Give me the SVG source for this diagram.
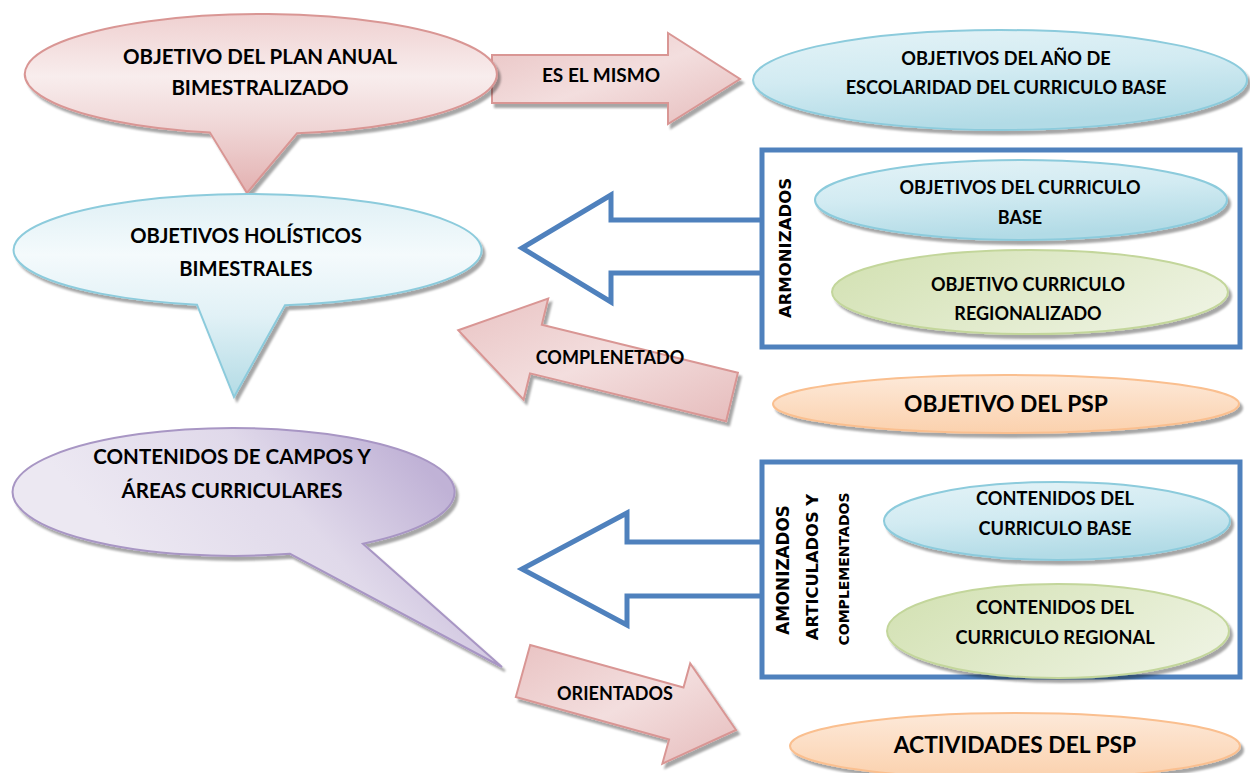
<svg xmlns="http://www.w3.org/2000/svg" width="1250" height="773" viewBox="0 0 1250 773">
<style>
.t{font-family:Lato,"Liberation Sans",sans-serif;font-weight:bold;fill:#000;text-anchor:middle}
.v{font-family:"DejaVu Sans","Liberation Sans",sans-serif;font-weight:bold;fill:#000;text-anchor:middle;dominant-baseline:central}
.pinkA{fill:url(#gPinkA);stroke:#d99694;stroke-width:2;filter:url(#sh)}
.hollow{fill:none;stroke:#4f81bd;stroke-width:5;stroke-linejoin:miter}
.box{fill:#fff;stroke:#4f81bd;stroke-width:5}
.blueE{fill:url(#gBlue);stroke:#8ccbdc;stroke-width:2;filter:url(#sh)}
.greenE{fill:url(#gGreen);stroke:#c3d69b;stroke-width:2;filter:url(#sh)}
.orangeE{fill:url(#gOrange);stroke:#fabf8f;stroke-width:2;filter:url(#sh)}
</style>
<defs>
<filter id="sh" x="-10%" y="-10%" width="125%" height="135%">
<feDropShadow dx="3" dy="4" stdDeviation="1.2" flood-color="#000" flood-opacity="0.35"/>
</filter>
<linearGradient id="gPink" x1="0" y1="0" x2="0" y2="1">
<stop offset="0" stop-color="#efd0d0"/><stop offset="0.35" stop-color="#f8eded"/><stop offset="0.62" stop-color="#f0d7d7"/><stop offset="1" stop-color="#e3b1b1"/>
</linearGradient>
<linearGradient id="gPinkA" x1="0" y1="0" x2="1" y2="1">
<stop offset="0" stop-color="#e9c3c3"/><stop offset="0.5" stop-color="#f3dede"/><stop offset="1" stop-color="#e6bcbc"/>
</linearGradient>
<linearGradient id="gBlueC" x1="0" y1="0" x2="0" y2="1">
<stop offset="0" stop-color="#dff0f5"/><stop offset="0.3" stop-color="#f4fafc"/><stop offset="0.6" stop-color="#e1f1f6"/><stop offset="1" stop-color="#b3dbe5"/>
</linearGradient>
<linearGradient id="gPurple" gradientUnits="userSpaceOnUse" x1="380" y1="415" x2="170" y2="600">
<stop offset="0" stop-color="#c0b2d6"/><stop offset="0.45" stop-color="#e0d9ea"/><stop offset="1" stop-color="#ece8f2"/>
</linearGradient>
<linearGradient id="gBlue" x1="0" y1="0" x2="0.3" y2="1">
<stop offset="0" stop-color="#e4f3f7"/><stop offset="0.5" stop-color="#d2ebf2"/><stop offset="1" stop-color="#b2dbe6"/>
</linearGradient>
<linearGradient id="gGreen" x1="0" y1="0.3" x2="1" y2="0.7">
<stop offset="0" stop-color="#d4e2b5"/><stop offset="1" stop-color="#eef3e2"/>
</linearGradient>
<linearGradient id="gOrange" x1="0" y1="0" x2="0" y2="1">
<stop offset="0" stop-color="#fde9d9"/><stop offset="1" stop-color="#fbd1ad"/>
</linearGradient>
</defs>

<g id="connectors">
<polygon id="arrow-es-el-mismo" class="pinkA" points="492,55 668,55 668,33 740,79 668,124 668,103 492,103"/>
<path id="arrow-armonizados" class="hollow" d="M762,220 L611,220 L611,195 L522,248 L611,302 L611,273 L762,273"/>
<polygon id="arrow-complenetado" class="pinkA" points="737.9,372.7 541.8,324.8 548.2,298.6 458.2,330.2 523.6,399.6 530,373.4 726.1,421.3"/>
<path id="arrow-amonizados" class="hollow" d="M762,542 L627,542 L627,513 L522,569 L627,625 L627,596 L762,596"/>
<polygon id="arrow-orientados" class="pinkA" points="530.2,645 683.5,687.5 690.2,663.4 736,730 662.4,763.6 669.1,739.5 515.8,697"/>
<text class="t" x="601" y="82" font-size="19">ES EL MISMO</text>
<text class="t" x="610" y="364" font-size="18">COMPLENETADO</text>
<text class="t" x="615" y="700" font-size="18">ORIENTADOS</text>
</g>

<g id="node-plan-anual">
<path d="M297,133.3 A236,60 0 1 0 210,132.6 L247,193 Z" fill="url(#gPink)" stroke="#d99694" stroke-width="2" filter="url(#sh)"/>
<text class="t" x="260" y="64" font-size="20.5">OBJETIVO DEL PLAN ANUAL</text>
<text class="t" x="260" y="95" font-size="20.5">BIMESTRALIZADO</text>
</g>

<g id="node-anio-escolaridad">
<ellipse class="blueE" cx="1000" cy="80" rx="247" ry="50"/>
<text class="t" x="1006" y="65" font-size="18.2">OBJETIVOS DEL AÑO DE</text>
<text class="t" x="1006" y="94" font-size="18.2">ESCOLARIDAD DEL CURRICULO BASE</text>
</g>

<g id="node-holisticos">
<path d="M285,305.3 A234,56 0 1 0 197,304.7 L234,397 Z" fill="url(#gBlueC)" stroke="#8ccbdc" stroke-width="2" filter="url(#sh)"/>
<text class="t" x="246" y="243" font-size="20.2">OBJETIVOS HOLÍSTICOS</text>
<text class="t" x="246" y="276" font-size="20.2">BIMESTRALES</text>
</g>

<g id="node-contenidos-campos">
<path d="M363,543.8 A221,64 0 1 0 290,553.8 L502,667 Z" fill="url(#gPurple)" stroke="#a896c4" stroke-width="2" filter="url(#sh)"/>
<text class="t" x="232" y="464" font-size="20.5">CONTENIDOS DE CAMPOS Y</text>
<text class="t" x="232" y="498" font-size="20.5">ÁREAS CURRICULARES</text>
</g>

<g id="node-box-objetivos">
<rect class="box" x="762" y="150" width="478" height="197"/>
<text class="v" transform="translate(785,248) rotate(-90)" font-size="16.5">ARMONIZADOS</text>
<ellipse class="greenE" cx="1030" cy="292" rx="198" ry="42"/>
<text class="t" x="1028" y="320" font-size="18">REGIONALIZADO</text>
<text class="t" x="1028" y="291" font-size="18">OBJETIVO CURRICULO</text>
<ellipse class="blueE" cx="1021" cy="200" rx="206" ry="40"/>
<text class="t" x="1020" y="194" font-size="18">OBJETIVOS DEL CURRICULO</text>
<text class="t" x="1020" y="224" font-size="18">BASE</text>
</g>

<g id="node-objetivo-psp">
<ellipse class="orangeE" cx="1006" cy="404" rx="233" ry="29"/>
<text class="t" x="1006" y="412" font-size="22.8">OBJETIVO DEL PSP</text>
</g>

<g id="node-box-contenidos">
<rect class="box" x="762" y="462" width="478" height="215"/>
<text class="v" transform="translate(783,570) rotate(-90)" font-size="16.8">AMONIZADOS</text>
<text class="v" transform="translate(812,567) rotate(-90)" font-size="16.3">ARTICULADOS Y</text>
<text class="v" transform="translate(844,569) rotate(-90)" font-size="14">COMPLEMENTADOS</text>
<ellipse class="blueE" cx="1057" cy="521" rx="173" ry="39"/>
<text class="t" x="1055" y="505" font-size="18.2">CONTENIDOS DEL</text>
<text class="t" x="1055" y="535" font-size="18.2">CURRICULO BASE</text>
<ellipse class="greenE" cx="1058" cy="631" rx="171" ry="47"/>
<text class="t" x="1055" y="614" font-size="18.2">CONTENIDOS DEL</text>
<text class="t" x="1055" y="644" font-size="18.2">CURRICULO REGIONAL</text>
</g>

<g id="node-actividades-psp">
<ellipse class="orangeE" cx="1015" cy="746" rx="225" ry="33"/>
<text class="t" x="1015" y="753" font-size="22.8">ACTIVIDADES DEL PSP</text>
</g>
</svg>
